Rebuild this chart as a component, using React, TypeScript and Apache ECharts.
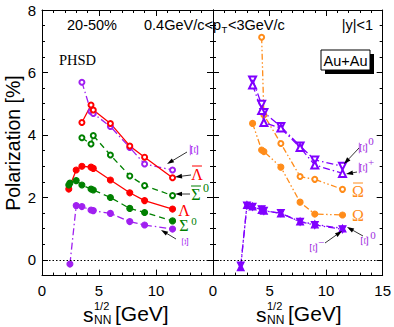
import React, { useEffect, useRef } from 'react';
import * as echarts from 'echarts';

// ---------- data ----------
const xAnti = [3.5, 4.3, 4.5, 6.0, 7.7, 9.0, 11.45];
const antiXiY = [5.69, 4.75, 4.69, 4.27, 3.6, 3.07, 2.88];
const antiLambdaY = [4.4, 4.96, 4.8, 4.37, 3.65, 3.29, 2.63];
const antiSigmaY = [3.91, 3.71, 3.98, 3.36, 2.69, 2.38, 2.06];

const lambdaX = [2.35, 3.0, 3.5, 4.3, 4.5, 6.0, 7.7, 9.0, 11.45];
const lambdaY = [2.27, 2.88, 3.0, 2.97, 2.93, 2.56, 2.15, 1.9, 1.63];
const sigmaX = [2.35, 2.45, 3.0, 3.5, 4.3, 4.5, 6.0, 7.7, 9.0, 11.45];
const sigmaY = [2.4, 2.46, 2.54, 2.4, 2.27, 2.24, 2.0, 1.65, 1.52, 1.25];
const xiX = [2.45, 3.0, 3.5, 4.3, 4.5, 6.0, 7.7, 9.0, 11.45];
const xiY = [-0.13, 1.74, 1.71, 1.6, 1.58, 1.49, 1.23, 1.12, 0.99];

const antiOmegaX = [4.3, 4.5, 6.0, 7.7, 9.0, 11.45];
const antiOmegaY = [7.13, 4.64, 3.73, 2.67, 2.58, 2.26];
const omegaX = [3.5, 4.3, 4.5, 6.0, 7.7, 9.0, 11.45];
const omegaY = [4.37, 3.52, 3.47, 2.97, 1.85, 1.47, 1.44];
const antiXi0Y = [5.76, 4.98, 4.72, 4.27, 3.65, 3.2, 3.0];
const antiXiPlusY = [5.6, 4.78, 4.4, 4.22, 3.6, 3.04, 2.77];
const xiMinusX = [2.45, 3.0, 3.5, 4.3, 4.5, 6.0, 7.7, 9.0, 11.45];
const xiMinusY = [-0.23, 1.76, 1.71, 1.6, 1.58, 1.49, 1.23, 1.14, 1.01];
const xi0Y = [-0.18, 1.74, 1.7, 1.62, 1.57, 1.5, 1.22, 1.12, 0.98];

const yMajorTicks = [0, 2, 4, 6, 8];
const xLeftLabels = [0, 5, 10];

// ---------- styles ----------
const SANS = 'Liberation Sans, Arial, sans-serif';
const SERIF = 'Liberation Serif, Times New Roman, serif';
const RED = '#ff0000';
const GREEN = '#008000';
const PURPLE = '#a020f0';
const ORANGE = '#ff8c1a';
const VIOLET = '#8000ff';
const LABEL_VIOLET = '#a030e0';

const DASH = [6, 4];
const DASHDOT = [7, 3, 1.5, 3];
const DASHDOTDOT = [6, 2.5, 1.5, 2.5, 1.5, 2.5];

const zip = (xs: number[], ys: number[]) => xs.map((x, i) => [x, ys[i]]);

function ser(xs: number[], ys: number[], grid: number, color: string, symbol: string,
  lineType: any, size: number, rotate = 0, extra: any = {}) {
  return {
    type: 'line',
    xAxisIndex: grid === 0 ? 0 : 2,
    yAxisIndex: grid === 0 ? 0 : 4,
    data: zip(xs, ys),
    symbol,
    symbolSize: size,
    symbolRotate: rotate,
    showAllSymbol: true,
    lineStyle: { color, width: 1.3, type: lineType },
    itemStyle: { color, borderColor: color, borderWidth: 1.1 },
    emphasis: { disabled: true },
    z: 3,
    ...extra,
  };
}

const zeroLine = {
  silent: true,
  symbol: 'none',
  label: { show: false },
  lineStyle: { type: [1.5, 2], color: '#000', width: 1 },
  data: [{ yAxis: 0 }],
};

function xAxes(grid: number) {
  const base = {
    gridIndex: grid, type: 'value', min: 0, max: 15, interval: 5,
    axisLine: { onZero: false, lineStyle: { color: '#000', width: 1 } },
    axisTick: { inside: true, length: 6, lineStyle: { color: '#000' } },
    minorTick: { show: true, splitNumber: 5, length: 3, lineStyle: { color: '#000' } },
    splitLine: { show: false },
    minorSplitLine: { show: false },
  };
  return [
    {
      ...base, position: 'bottom',
      axisLabel: {
        color: '#000', fontSize: 15, fontFamily: SANS, margin: 7,
        formatter: (v: number) => (grid === 0 && xLeftLabels.indexOf(v) < 0 ? '' : String(v)),
      },
    },
    { ...base, position: 'top', axisLabel: { show: false } },
  ];
}

function yAxes(grid: number) {
  const out: any[] = [];
  for (const pos of ['left', 'right']) {
    out.push({
      gridIndex: grid, type: 'value', position: pos, min: -0.5, max: 8, interval: 0.5,
      axisLine: { show: true, onZero: false, lineStyle: { color: '#000', width: 1 } },
      axisTick: { inside: true, length: 3, lineStyle: { color: '#000' } },
      splitLine: { show: false },
      axisLabel: grid === 0 && pos === 'left'
        ? {
          color: '#000', fontSize: 15, fontFamily: SANS, margin: 6,
          formatter: (v: number) => (yMajorTicks.indexOf(v) >= 0 ? String(v) : ''),
        }
        : { show: false },
    });
    out.push({
      gridIndex: grid, type: 'value', position: pos, min: -0.5, max: 8,
      axisLine: { show: false, onZero: false },
      axisTick: { inside: true, length: 6, customValues: yMajorTicks, lineStyle: { color: '#000' } },
      splitLine: { show: false },
      axisLabel: { show: false },
    });
  }
  return out;
}

function txt(x: number, y: number, text: string, color: string, size: number, family: string,
  align = 'center', extra: any = {}) {
  return {
    type: 'text', x, y, silent: true, z: 10,
    style: { text, fill: color, fontSize: size, fontFamily: family, textAlign: align, textVerticalAlign: 'middle' },
    ...extra,
  };
}

function greek(x: number, y: number, ch: string, color: string, size: number, bar: boolean, rotated: boolean) {
  const w = size * 0.62;
  const children: any[] = [
    {
      type: 'text', silent: true,
      style: { text: ch, fill: color, fontSize: size, fontFamily: SERIF, textAlign: 'center', textVerticalAlign: 'middle' },
    },
  ];
  if (bar) {
    children.push({
      type: 'line', silent: true,
      shape: { x1: -w / 2, y1: -size * 0.5, x2: w / 2, y2: -size * 0.5 },
      style: { stroke: color, lineWidth: 1 },
    });
  }
  return {
    type: 'group', x, y, z: 10,
    rotation: rotated ? Math.PI / 2 : 0,
    scaleY: rotated ? 0.55 : 1,
    children,
  };
}

function arrow(x1: number, y1: number, x2: number, y2: number) {
  const dx = x2 - x1, dy = y2 - y1;
  const len = Math.hypot(dx, dy);
  const ux = dx / len, uy = dy / len;
  const bx = x2 - ux * 7, by = y2 - uy * 7;
  const px = -uy, py = ux;
  return [
    { type: 'line', silent: true, z: 10, shape: { x1, y1, x2: bx, y2: by }, style: { stroke: '#000', lineWidth: 0.8 } },
    {
      type: 'polygon', silent: true, z: 10,
      shape: { points: [[x2, y2], [bx + px * 2.3, by + py * 2.3], [bx - px * 2.3, by - py * 2.3]] },
      style: { fill: '#000' },
    },
  ];
}

function axisTitle(x: number) {
  return [
    txt(x, 314, 's', '#000', 21, SANS, 'left'),
    txt(x + 11, 305.5, '1/2', '#000', 11, SANS, 'left'),
    txt(x + 11, 320, 'NN', '#000', 12, SANS, 'left'),
    txt(x + 32, 313, '[GeV]', '#000', 21, SANS, 'left'),
  ];
}

export default function App() {
  const ref = useRef<HTMLDivElement>(null);
  useEffect(() => {
    if (!ref.current) return;
    const chart = echarts.init(ref.current, null, { renderer: 'svg' });
    const option: any = {
      animation: false,
      backgroundColor: '#fff',
      grid: [
        { left: 42, top: 10, width: 171, height: 265.6 },
        { left: 213, top: 10, width: 171, height: 265.6 },
      ],
      xAxis: [...xAxes(0), ...xAxes(1)],
      yAxis: [...yAxes(0), ...yAxes(1)],
      series: [
        // left panel
        ser(xAnti, antiXiY, 0, PURPLE, 'emptyCircle', DASHDOT, 5),
        ser(xAnti, antiLambdaY, 0, RED, 'emptyCircle', 'solid', 5),
        ser(xAnti, antiSigmaY, 0, GREEN, 'emptyCircle', DASH, 5),
        ser(lambdaX, lambdaY, 0, RED, 'circle', 'solid', 6),
        ser(sigmaX, sigmaY, 0, GREEN, 'circle', DASH, 6),
        ser(xiX, xiY, 0, PURPLE, 'circle', DASHDOT, 6, 0, { markLine: zeroLine }),
        // right panel
        ser(antiOmegaX, antiOmegaY, 1, ORANGE, 'emptyCircle', DASHDOTDOT, 5),
        ser(omegaX, omegaY, 1, ORANGE, 'circle', DASHDOTDOT, 6),
        ser(xAnti, antiXi0Y, 1, VIOLET, 'emptyTriangle', DASHDOT, 7, 180),
        ser(xAnti, antiXiPlusY, 1, VIOLET, 'emptyTriangle', DASHDOT, 7),
        ser(xiMinusX, xiMinusY, 1, VIOLET, 'triangle', DASHDOT, 7),
        ser(xiMinusX, xi0Y, 1, VIOLET, 'triangle', DASHDOT, 7, 180, { markLine: zeroLine }),
      ],
      graphic: [
        // axis titles
        txt(13, 143, 'Polarization [%]', '#000', 19.5, SANS, 'center', { rotation: Math.PI / 2 }),
        ...axisTitle(83),
        ...axisTitle(256),
        // header
        txt(67, 25, '20-50%', '#000', 14.5, SANS, 'left'),
        txt(144, 25, '0.4GeV/c<p', '#000', 14.5, SANS, 'left'),
        txt(221.5, 29.5, 'T', '#000', 9.5, SANS, 'left'),
        txt(228, 25, '<3GeV/c', '#000', 14.5, SANS, 'left'),
        txt(373, 25, '|y|<1', '#000', 14.5, SANS, 'right'),
        txt(59, 60, 'PHSD', '#000', 14.5, SERIF, 'left'),
        // Au+Au box
        { type: 'rect', silent: true, z: 9, shape: { x: 325, y: 54, width: 49, height: 20 }, style: { fill: '#000' } },
        { type: 'rect', silent: true, z: 10, shape: { x: 321, y: 50, width: 49, height: 20 }, style: { fill: '#fff', stroke: '#000', lineWidth: 1 } },
        txt(345.5, 60.5, 'Au+Au', '#000', 14.5, SANS, 'center', { z: 11 }),
        // left labels
        greek(195, 150, 'Ξ', PURPLE, 17, true, true),
        greek(197, 174, 'Λ', RED, 16, true, false),
        greek(196, 194, 'Σ', GREEN, 16, true, false),
        txt(206, 188, '0', GREEN, 12, SERIF, 'center'),
        greek(184, 210, 'Λ', RED, 16, false, false),
        greek(184, 225, 'Σ', GREEN, 16, false, false),
        txt(194, 221, '0', GREEN, 11, SERIF, 'center'),
        greek(185, 242, 'Ξ', PURPLE, 15, false, true),
        ...arrow(187, 152, 167, 164),
        ...arrow(191, 175, 175, 177),
        ...arrow(190, 194, 175, 194),
        ...arrow(176, 239, 161, 230),
        // right labels
        greek(364, 148, 'Ξ', LABEL_VIOLET, 17, true, true),
        txt(371, 141, '0', LABEL_VIOLET, 11, SERIF, 'center'),
        greek(364, 168, 'Ξ', LABEL_VIOLET, 17, true, true),
        txt(371, 162, '+', LABEL_VIOLET, 11, SERIF, 'center'),
        greek(358, 191, 'Ω', ORANGE, 16, true, false),
        greek(358, 215, 'Ω', ORANGE, 16, false, false),
        greek(365, 241, 'Ξ', LABEL_VIOLET, 17, false, true),
        txt(373, 235, '0', LABEL_VIOLET, 11, SERIF, 'center'),
        greek(314, 248, 'Ξ', LABEL_VIOLET, 17, false, true),
        txt(321, 242, '−', LABEL_VIOLET, 11, SERIF, 'center'),
        ...arrow(359, 148, 344, 164),
        ...arrow(357, 172, 346, 174),
        ...arrow(363, 236, 347, 227),
        ...arrow(325, 243, 342, 231),
      ],
    };
    chart.setOption(option);
    return () => chart.dispose();
  }, []);
  return (
    <div
      ref={ref}
      style={{ position: 'fixed', left: 0, top: 0, width: 394, height: 327, background: '#fff' }}
    />
  );
}
